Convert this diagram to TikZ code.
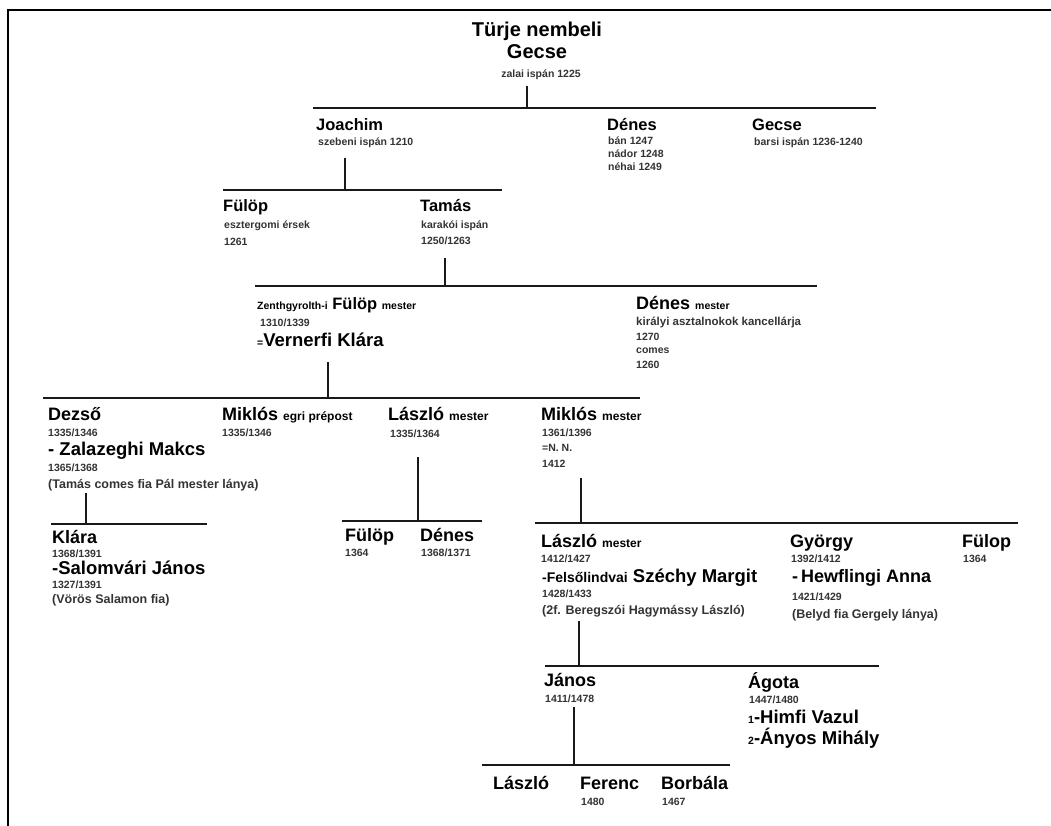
\documentclass[tikz,border=0pt]{standalone}
\usepackage{fontspec}
\setmainfont{Liberation Sans}
\newcommand{\smalltxt}[1]{{\fontsize{10.5}{12}\selectfont #1}}
\newcommand{\midtxt}[1]{{\fontsize{12}{14}\selectfont #1}}

\begin{document}
\begin{tikzpicture}%
        [x=1pt, y=-1pt,
        border/.style={line width=2pt, color=black},
        bar/.style={line width=2.6pt, color=black!90},
        drop/.style={line width=2.2pt, color=black!90},
        headtxt/.style={anchor=base, inner sep=0pt, font=\fontsize{20}{20}\selectfont\bfseries},
        person/.style={anchor=base west, inner sep=0pt, font=\fontsize{16.5}{16}\selectfont\bfseries},
        bigperson/.style={anchor=base west, inner sep=0pt, font=\fontsize{18}{18}\selectfont\bfseries},
        note/.style={anchor=base west, inner sep=0pt, font=\fontsize{10.5}{10.5}\selectfont\bfseries, text=black!80},
        remark/.style={anchor=base west, inner sep=0pt, font=\fontsize{12.5}{12.5}\selectfont\bfseries, text=black!80},
        spouse/.style={anchor=base west, inner sep=0pt, font=\fontsize{18.5}{18}\selectfont\bfseries}]
    %
    \useasboundingbox (0,0) rectangle (1051,825);
    \draw[border] (8,826) -- (8,10) -- (1052,10);
    %
    %% Generation 0
    \node[headtxt] (turje) at (537,36) {Türje nembeli};
    \node[headtxt] (gecse0) at (537,58) {Gecse};
    \node[note, anchor=base] (gecse0-i) at (541,77) {zalai ispán 1225};
    \coordinate (g0-drop) at (527,86);
    \coordinate (g1-l) at (313,108);
    \coordinate (g1-m) at (527,108);
    \coordinate (g1-r) at (876,108);
    \draw[drop] (g0-drop) -- (g1-m);
    \draw[bar] (g1-l) -- (g1-r);
    %
    %% Generation 1
    \node[person] (joachim) at (316,130) {Joachim};
    \node[note] (joachim-i) at (318,145) {szebeni ispán 1210};
    \node[person] (denes1) at (607,130) {Dénes};
    \node[note] (denes1-a) at (608,144) {bán 1247};
    \node[note] (denes1-b) at (608,157) {nádor 1248};
    \node[note] (denes1-c) at (608,170) {néhai 1249};
    \node[person] (gecse1) at (752,130) {Gecse};
    \node[note] (gecse1-i) at (754,145) {barsi ispán 1236-1240};
    \coordinate (j-drop) at (345,158);
    \coordinate (g2-l) at (223,190);
    \coordinate (g2-m) at (345,190);
    \coordinate (g2-r) at (502,190);
    \draw[drop] (j-drop) -- (g2-m);
    \draw[bar] (g2-l) -- (g2-r);
    %
    %% Generation 2
    \node[person] (fulop2) at (223,211) {Fülöp};
    \node[note] (fulop2-a) at (224,228) {esztergomi érsek};
    \node[note] (fulop2-b) at (224,245) {1261};
    \node[person] (tamas) at (420,211) {Tamás};
    \node[note] (tamas-a) at (421,228) {karakói ispán};
    \node[note] (tamas-b) at (421,244) {1250/1263};
    \coordinate (t-drop) at (445,258);
    \coordinate (g3-l) at (255,286);
    \coordinate (g3-m) at (445,286);
    \coordinate (g3-r) at (817,286);
    \draw[drop] (t-drop) -- (g3-m);
    \draw[bar] (g3-l) -- (g3-r);
    %
    %% Generation 3
    \node[person] (fulop3) at (257,309) {\smalltxt{Zenthgyrolth-i} Fülöp \smalltxt{mester}};
    \node[note] (fulop3-a) at (260,326) {1310/1339};
    \node[spouse] (klara3) at (257,346) {\smalltxt{=}Vernerfi Klára};
    \node[bigperson] (denes3) at (636,309) {Dénes \smalltxt{mester}};
    \node[note, font=\fontsize{11.5}{11.5}\selectfont\bfseries] (denes3-a) at (636,325) {királyi asztalnokok kancellárja};
    \node[note] (denes3-b) at (636,340) {1270};
    \node[note] (denes3-c) at (636,353) {comes};
    \node[note] (denes3-d) at (636,368) {1260};
    \coordinate (f-drop) at (328,362);
    \coordinate (g4-l) at (43,398);
    \coordinate (g4-m) at (328,398);
    \coordinate (g4-r) at (640,398);
    \draw[drop] (f-drop) -- (g4-m);
    \draw[bar] (g4-l) -- (g4-r);
    %
    %% Generation 4
    \node[bigperson] (dezso) at (48,420) {Dezső};
    \node[note] (dezso-a) at (48,436) {1335/1346};
    \node[spouse] (makcs) at (48,455) {- Zalazeghi Makcs};
    \node[note] (makcs-a) at (48,471) {1365/1368};
    \node[remark] (makcs-b) at (48,488) {(Tamás comes fia Pál mester lánya)};
    \node[bigperson] (miklos4) at (222,420) {Miklós \midtxt{egri prépost}};
    \node[note] (miklos4-a) at (222,436) {1335/1346};
    \node[bigperson] (laszlo4) at (388,420) {László \midtxt{mester}};
    \node[note] (laszlo4-a) at (390,437) {1335/1364};
    \node[bigperson] (miklos4b) at (541,420) {Miklós \midtxt{mester}};
    \node[note] (miklos4b-a) at (542,436) {1361/1396};
    \node[note] (miklos4b-b) at (542,451) {=N. N.};
    \node[note] (miklos4b-c) at (542,467) {1412};
    %
    \coordinate (d-drop) at (86,493);
    \coordinate (g5a-l) at (51,524);
    \coordinate (g5a-m) at (86,524);
    \coordinate (g5a-r) at (207,524);
    \draw[drop] (d-drop) -- (g5a-m);
    \draw[bar] (g5a-l) -- (g5a-r);
    \coordinate (l-drop) at (418,457);
    \coordinate (g5b-l) at (342,521);
    \coordinate (g5b-m) at (418,521);
    \coordinate (g5b-r) at (482,521);
    \draw[drop] (l-drop) -- (g5b-m);
    \draw[bar] (g5b-l) -- (g5b-r);
    \coordinate (m-drop) at (581,478);
    \coordinate (g5c-l) at (535,523);
    \coordinate (g5c-m) at (581,523);
    \coordinate (g5c-r) at (1018,523);
    \draw[drop] (m-drop) -- (g5c-m);
    \draw[bar] (g5c-l) -- (g5c-r);
    %
    %% Generation 5
    \node[bigperson] (klara5) at (52,543) {Klára};
    \node[note] (klara5-a) at (52,557) {1368/1391};
    \node[spouse] (janos5) at (52,574) {-Salomvári János};
    \node[note] (janos5-a) at (52,588) {1327/1391};
    \node[remark] (janos5-b) at (52,603) {(Vörös Salamon fia)};
    \node[bigperson] (fulop5) at (345,541) {Fülöp};
    \node[note] (fulop5-a) at (345,556) {1364};
    \node[bigperson] (denes5) at (420,541) {Dénes};
    \node[note] (denes5-a) at (421,556) {1368/1371};
    \node[bigperson] (laszlo5) at (541,547) {László \midtxt{mester}};
    \node[note] (laszlo5-a) at (541,562) {1412/1427};
    \node[spouse] (margit) at (542,582) {{\fontsize{14}{14}\selectfont -Felsőlindvai} Széchy Margit};
    \node[note] (margit-a) at (542,597) {1428/1433};
    \node[remark] (margit-b) at (542,614) {(2f. Beregszói Hagymássy László)};
    \node[bigperson] (gyorgy) at (790,547) {György};
    \node[note] (gyorgy-a) at (791,562) {1392/1412};
    \node[spouse, font=\fontsize{18}{18}\selectfont\bfseries] (anna) at (792,582) {-\,Hewflingi Anna};
    \node[note] (anna-a) at (792,600) {1421/1429};
    \node[remark] (anna-b) at (792,618) {(Belyd fia Gergely lánya)};
    \node[bigperson] (fulop5b) at (962,547) {Fülop};
    \node[note] (fulop5b-a) at (963,562) {1364};
    \coordinate (ll-drop) at (579,621);
    \coordinate (g6-l) at (545,666);
    \coordinate (g6-m) at (579,666);
    \coordinate (g6-r) at (879,666);
    \draw[drop] (ll-drop) -- (g6-m);
    \draw[bar] (g6-l) -- (g6-r);
    %
    %% Generation 6
    \node[bigperson] (janos6) at (544,686) {János};
    \node[note] (janos6-a) at (545,702) {1411/1478};
    \node[bigperson] (agota) at (748,688) {Ágota};
    \node[note] (agota-a) at (749,703) {1447/1480};
    \node[spouse] (vazul) at (748,723) {\smalltxt{1}-Himfi Vazul};
    \node[spouse] (mihaly) at (748,744) {\smalltxt{2}-Ányos Mihály};
    \coordinate (jn-drop) at (574,707);
    \coordinate (g7-l) at (482,765);
    \coordinate (g7-m) at (574,765);
    \coordinate (g7-r) at (730,765);
    \draw[drop] (jn-drop) -- (g7-m);
    \draw[bar] (g7-l) -- (g7-r);
    %
    %% Generation 7
    \node[bigperson] (laszlo7) at (493,789) {László};
    \node[bigperson] (ferenc) at (580,789) {Ferenc};
    \node[note] (ferenc-a) at (581,805) {1480};
    \node[bigperson] (borbala) at (661,789) {Borbála};
    \node[note] (borbala-a) at (662,805) {1467};
    %
\end{tikzpicture}
\end{document}
